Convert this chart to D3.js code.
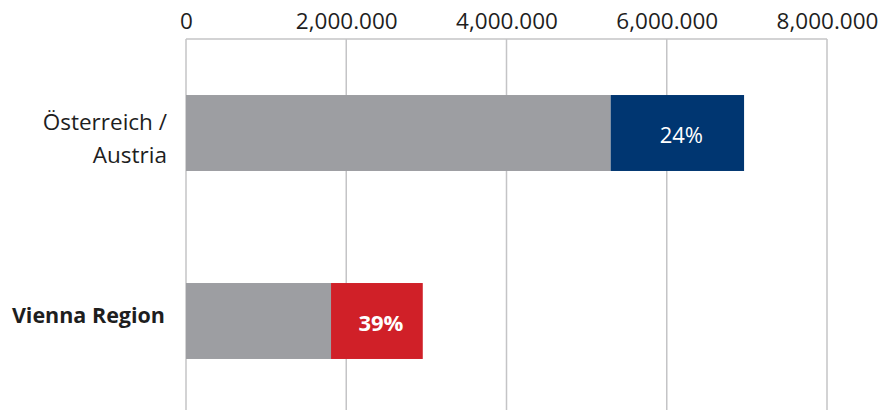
<!DOCTYPE html>
<html>
<head>
    <meta charset="utf-8">
    <title>Visitors</title>
    <script src="https://d3js.org/d3.v7.min.js"></script>
    <style>
        body { margin: 0; background: #fff; }
        text { font-family: "Open Sans", sans-serif; }
    </style>
</head>
<body>
<div id="chart"></div>
<script>
    // data
    var categories = ["Österreich / Austria", "Vienna Region"];
    var labelLines = [["Österreich /", "Austria"], ["Vienna Region"]];
    var boldLabel = [false, true];
    var baseValues = [5300000, 1810000];
    var shareValues = [1665000, 1145000];
    var shareLabels = ["24%", "39%"];
    var shareColors = ["#003671", "#d02028"];
    var tickValues = [0, 2000000, 4000000, 6000000, 8000000];
    var tickLabels = ["0", "2,000.000", "4,000.000", "6,000.000", "8,000.000"];

    var W = 881, H = 410;
    var margin = { top: 39, right: 54, bottom: -5, left: 186 },
        width = W - margin.left - margin.right,
        height = H - margin.top - margin.bottom;

    var svg = d3.select("#chart")
        .append("svg")
        .attr("width", W)
        .attr("height", H)
        .append("g")
        .attr("transform", "translate(" + margin.left + "," + margin.top + ")");

    var x = d3.scaleLinear()
        .domain([0, 8000000])
        .range([0, width]);

    var y = d3.scaleBand()
        .domain(categories)
        .range([0, height])
        .paddingInner(0.596)
        .paddingOuter(0.298);

    // gridlines
    svg.selectAll(".grid")
        .data(tickValues)
        .enter()
        .append("line")
        .attr("x1", function (d) { return x(d); })
        .attr("x2", function (d) { return x(d); })
        .attr("y1", 0)
        .attr("y2", height)
        .attr("stroke", "#c4c4c6")
        .attr("stroke-width", 1.5);

    svg.append("line")
        .attr("x1", x(0)).attr("x2", x(8000000))
        .attr("y1", 0).attr("y2", 0)
        .attr("stroke", "#c4c4c6")
        .attr("stroke-width", 1.5);

    // top axis labels
    var axis = d3.axisTop(x)
        .tickValues(tickValues)
        .tickSize(0)
        .tickPadding(10)
        .tickFormat(function (d, i) { return tickLabels[i]; });
    var ax = svg.append("g").call(axis);
    ax.select(".domain").remove();
    ax.selectAll("text")
        .style("font-family", "Open Sans, sans-serif")
        .style("font-size", "22.5px")
        .attr("fill", "#1e1e1e");

    // gray base bars
    svg.selectAll(".base")
        .data(categories)
        .enter()
        .append("rect")
        .attr("x", x(0))
        .attr("y", function (d) { return y(d); })
        .attr("width", function (d, i) { return x(baseValues[i]) - x(0); })
        .attr("height", y.bandwidth())
        .attr("fill", "#9d9ea2");

    // coloured share bars
    svg.selectAll(".share")
        .data(categories)
        .enter()
        .append("rect")
        .attr("x", function (d, i) { return x(baseValues[i]); })
        .attr("y", function (d) { return y(d); })
        .attr("width", function (d, i) { return x(baseValues[i] + shareValues[i]) - x(baseValues[i]); })
        .attr("height", y.bandwidth())
        .attr("fill", function (d, i) { return shareColors[i]; });

    svg.selectAll(".pct")
        .data(categories)
        .enter()
        .append("text")
        .attr("x", function (d, i) { return x(baseValues[i] + shareValues[i] / 2) + 4; })
        .attr("y", function (d) { return y(d) + y.bandwidth() / 2 + 10; })
        .attr("text-anchor", "middle")
        .attr("fill", "#fff")
        .style("font-size", "22px")
        .style("font-weight", function (d, i) { return boldLabel[i] ? "bold" : "normal"; })
        .text(function (d, i) { return shareLabels[i]; });

    // category labels
    categories.forEach(function (c, i) {
        var lines = labelLines[i];
        var cy = y(c) + y.bandwidth() / 2;
        var lh = 33;
        var t = svg.append("text")
            .attr("text-anchor", "end")
            .attr("fill", "#1e1e1e")
            .style("font-size", boldLabel[i] ? "21.5px" : "22.5px")
            .style("font-weight", boldLabel[i] ? "bold" : "normal");
        lines.forEach(function (l, j) {
            t.append("tspan")
                .attr("x", boldLabel[i] ? -21 : -19)
                .attr("y", cy + (lines.length === 1 ? 2 : -3) + j * lh)
                .text(l);
        });
    });
</script>
</body>
</html>
